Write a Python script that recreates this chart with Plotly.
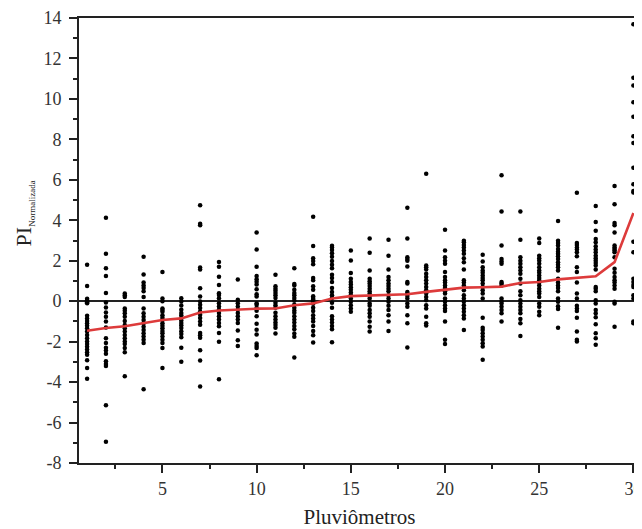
import plotly.graph_objects as go

# ---- data ----
stations = list(range(1, 31))

s01 = [1.8, 0.75, 0.12, 0.05, 0.0, -0.05, -0.1, -0.72, -0.85, -0.98, -1.09, -1.21, -1.34, -1.5, -1.67, -1.83, -1.99, -2.12, -2.25, -2.39, -2.52, -2.65, -2.92, -3.3, -3.84]
s02 = [4.13, 2.34, 1.63, 1.24, 0.41, -0.07, -0.31, -0.56, -0.77, -1.0, -1.3, -1.83, -2.07, -2.3, -2.44, -2.6, -2.97, -3.1, -3.2, -5.15, -6.95]
s03 = [0.38, 0.29, 0.21, -0.36, -0.47, -0.6, -0.77, -0.98, -1.18, -1.34, -1.5, -1.67, -1.83, -1.99, -2.12, -2.32, -2.52, -3.71]
s04 = [2.2, 1.32, 0.92, 0.78, 0.65, 0.49, 0.21, -0.36, -0.6, -0.77, -0.93, -1.09, -1.26, -1.42, -1.59, -1.75, -1.91, -2.07, -4.36]
s05 = [1.44, 0.13, 0.0, -0.36, -0.44, -0.52, -0.69, -0.82, -0.93, -1.09, -1.21, -1.34, -1.47, -1.59, -1.75, -1.91, -2.07, -2.32, -3.3]
s06 = [0.15, -0.02, -0.21, -0.42, -0.59, -0.7, -0.83, -0.96, -1.08, -1.19, -1.32, -1.49, -1.62, -1.78, -2.3, -2.99]
s07 = [4.74, 3.83, 3.75, 1.67, 1.57, 0.64, 0.23, -0.02, -0.18, -0.34, -0.51, -0.67, -0.83, -1.0, -1.16, -1.57, -1.68, -1.81, -2.42, -2.93, -4.22]
s08 = [1.94, 1.7, 1.21, 0.8, 0.39, 0.31, 0.15, -0.1, -0.26, -0.42, -0.59, -0.75, -0.91, -1.08, -1.24, -1.57, -2.01, -3.86]
s09 = [1.07, 0.07, -0.1, -0.26, -0.42, -0.59, -0.75, -0.91, -1.08, -1.45, -1.93, -2.22]
s10 = [3.4, 2.55, 1.7, 1.24, 1.09, 0.96, 0.83, 0.59, 0.34, 0.23, -0.1, -0.18, -0.34, -0.47, -0.75, -1.11, -1.41, -1.65, -2.09, -2.21, -2.32, -2.67]
s11 = [1.31, 0.74, 0.62, 0.52, 0.41, 0.29, 0.16, -0.08, -0.2, -0.33, -0.57, -0.74, -0.9, -1.06, -1.18, -1.31, -1.6]
s12 = [1.63, 0.85, 0.78, 0.57, 0.41, 0.29, 0.16, 0.03, -0.16, -0.33, -0.46, -0.57, -0.74, -0.9, -1.06, -1.23, -1.39, -1.6, -1.76, -2.78]
s13 = [4.17, 2.73, 2.12, 1.99, 1.83, 1.14, 1.03, 0.74, 0.57, 0.25, 0.16, 0.08, 0.0, -0.13, -0.33, -0.49, -0.69, -0.85, -1.01, -1.23, -1.47, -1.68, -2.04]
s14 = [2.74, 2.65, 2.53, 2.37, 2.2, 1.99, 1.8, 1.63, 1.31, 1.14, 0.95, 0.65, 0.46, 0.29, 0.16, -0.08, -0.33, -0.74, -0.9, -1.06, -1.23, -1.39, -2.03]
s15 = [2.5, 2.01, 1.39, 1.11, 0.95, 0.82, 0.69, 0.56, 0.43, 0.3, 0.13, -0.03, -0.2, -0.36, -0.52]
s16 = [3.1, 2.39, 1.52, 1.11, 0.98, 0.87, 0.75, 0.62, 0.49, 0.38, 0.26, 0.13, -0.11, -0.23, -0.44, -0.6, -0.77, -1.01, -1.26, -1.5]
s17 = [3.04, 2.25, 1.57, 1.19, 1.03, 0.87, 0.75, 0.62, 0.49, 0.29, 0.13, -0.03, -0.23, -0.44, -0.69, -1.01, -1.47]
s18 = [4.62, 3.1, 2.17, 2.09, 2.0, 1.72, 0.95, 0.87, 0.46, 0.38, 0.26, 0.13, -0.11, -0.28, -0.69, -1.09, -2.29]
s19 = [6.3, 1.76, 1.68, 1.57, 1.36, 1.19, 1.03, 0.87, 0.7, 0.54, 0.38, 0.21, 0.05, -0.2, -0.36, -0.77, -1.09, -1.2]
s20 = [3.53, 2.5, 2.17, 2.0, 1.85, 1.44, 1.19, 1.03, 0.92, 0.78, 0.65, 0.49, 0.38, 0.13, -0.03, -0.2, -0.36, -0.49, -1.01, -1.91, -2.12]
s21 = [2.99, 2.91, 2.78, 2.66, 2.5, 2.34, 2.12, 1.93, 1.57, 1.03, 0.92, 0.78, 0.65, 0.54, 0.29, 0.13, -0.03, -0.2, -0.36, -0.52, -0.69, -0.85, -1.42]
s22 = [2.29, 1.96, 1.68, 1.52, 1.41, 1.27, 1.14, 1.03, 0.87, 0.7, 0.54, 0.38, 0.13, -0.82, -1.31, -1.42, -1.59, -1.75, -1.91, -2.08, -2.24, -2.89]
s23 = [6.23, 4.43, 2.75, 2.09, 1.96, 1.85, 0.95, 0.87, 0.78, 0.13, 0.0, -0.11, -0.28, -0.44, -0.6, -1.01]
s24 = [4.43, 3.04, 2.17, 2.0, 1.85, 1.68, 1.52, 1.36, 1.11, 0.87, 0.49, 0.29, 0.05, -0.11, -0.28, -0.44, -0.6, -0.88, -1.09, -1.72]
s25 = [3.1, 2.88, 2.25, 2.12, 2.0, 1.85, 1.68, 1.52, 1.41, 1.27, 1.14, 1.03, 0.92, 0.78, 0.62, 0.49, 0.38, 0.21, -0.11, -0.28, -0.52, -0.69]
s26 = [3.97, 2.99, 2.88, 2.75, 2.58, 2.45, 2.34, 2.22, 2.09, 1.93, 1.8, 1.68, 1.52, 1.11, 0.92, 0.78, 0.65, 0.49, 0.13, -0.03, -0.25, -0.39, -1.31]
s27 = [5.36, 2.88, 2.78, 2.66, 2.55, 2.42, 2.22, 1.68, 1.44, 0.92, 0.38, 0.13, -0.23, -0.36, -0.49, -0.82, -1.5, -1.91, -1.99]
s28 = [4.71, 3.92, 3.48, 3.07, 2.91, 2.71, 2.55, 2.42, 2.25, 2.12, 2.0, 1.89, 1.76, 1.57, 0.7, 0.62, 0.49, 0.05, -0.11, -0.44, -0.6, -0.8, -1.14, -1.59, -1.83, -2.16]
s29 = [5.69, 4.79, 3.86, 3.76, 3.4, 2.75, 2.66, 2.58, 2.5, 2.42, 2.17, 1.6, 1.41, 1.19, 1.03, 0.92, 0.78, 0.62, -0.03, -0.11, -1.26]
s30 = [13.69, 11.05, 10.66, 9.84, 9.12, 8.15, 7.82, 6.6, 5.78, 5.45, 5.37, 2.94, 2.42, 1.11, 0.95, 0.8, 0.7, 0.29, 0.13, -1.01, -1.09]

station_values = [s01, s02, s03, s04, s05, s06, s07, s08, s09, s10,
                  s11, s12, s13, s14, s15, s16, s17, s18, s19, s20,
                  s21, s22, s23, s24, s25, s26, s27, s28, s29, s30]

mean_line = [-1.46, -1.33, -1.24, -1.08, -0.93, -0.85, -0.56, -0.46, -0.41, -0.37,
             -0.36, -0.2, -0.11, 0.13, 0.25, 0.28, 0.3, 0.34, 0.46, 0.57,
             0.67, 0.69, 0.72, 0.9, 0.95, 1.08, 1.16, 1.23, 1.93, 4.36]

x_tick_vals = [5, 10, 15, 20, 25, 30]
x_tick_text = ["5", "10", "15", "20", "25", "30"]
y_tick_vals = [-8, -6, -4, -2, 0, 2, 4, 6, 8, 10, 12, 14]
y_tick_text = ["-8", "-6", "-4", "-2", "0", "2", "4", "6", "8", "10", "12", "14"]

x_title = "Pluviômetros"
y_title = "PI<sub><span style='font-size:9px'>Normalizada</span></sub>"

# ---- build figure ----
xs, ys = [], []
for st, vals in zip(stations, station_values):
    xs.extend([st] * len(vals))
    ys.extend(vals)

FONT = "Liberation Serif"

fig = go.Figure()
fig.add_trace(go.Scatter(
    x=xs, y=ys, mode="markers",
    marker=dict(color="black", size=4.5, line=dict(width=0)),
    showlegend=False, cliponaxis=False,
))
fig.add_trace(go.Scatter(
    x=stations, y=mean_line, mode="lines",
    line=dict(color="#dd3b3b", width=2.6),
    showlegend=False,
))

# the page body adds an 8px offset, so the figure is 8px smaller than the window
fig.update_layout(
    width=634, height=521,
    margin=dict(l=71, r=0, t=6, b=66),
    paper_bgcolor="white", plot_bgcolor="white",
    font=dict(family=FONT, color="#222", size=17),
    annotations=[dict(
        text=y_title, textangle=-90, showarrow=False,
        xref="paper", yref="paper", x=-0.097, y=0.56,
        xanchor="center", yanchor="middle",
        font=dict(family=FONT, size=22, color="#222"),
    )],
)

fig.update_xaxes(
    range=[0.57, 30.35],
    tickmode="array", tickvals=x_tick_vals, ticktext=x_tick_text,
    ticks="outside", ticklen=8, tickwidth=1.5, tickcolor="#222",
    minor=dict(tickmode="linear", tick0=0, dtick=2.5, ticks="outside",
               ticklen=4, tickwidth=1.5, tickcolor="#222"),
    showline=True, linecolor="#222", linewidth=2, mirror=True,
    showgrid=False, zeroline=False, ticklabeloverflow="allow",
    tickfont=dict(family=FONT, size=18, color="#333"),
    title=dict(text=x_title, font=dict(family=FONT, size=21, color="#222"), standoff=12),
)
fig.update_yaxes(
    range=[-8, 14],
    tickmode="array", tickvals=y_tick_vals, ticktext=y_tick_text,
    ticks="outside", ticklen=8, tickwidth=1.5, tickcolor="#222",
    minor=dict(tickmode="linear", tick0=0, dtick=1, ticks="outside",
               ticklen=4, tickwidth=1.5, tickcolor="#222"),
    showline=True, linecolor="#222", linewidth=2, mirror=False,
    showgrid=False, ticklabeloverflow="allow", ticklabelstandoff=4,
    zeroline=True, zerolinecolor="#222", zerolinewidth=1.5,
    tickfont=dict(family=FONT, size=18, color="#333"),
)

fig.write_html("out.html")
